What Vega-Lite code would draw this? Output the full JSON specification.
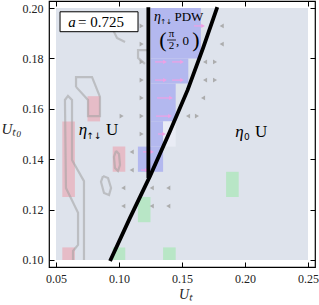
{
  "$schema": "https://vega.github.io/schema/vega-lite/v6.json",
  "width": 266,
  "height": 266,
  "autosize": {"type": "none"},
  "padding": {"left": 49, "top": 1, "right": 4, "bottom": 38},
  "background": "white",
  "config": {"view": {"stroke": "black", "strokeWidth": 1.2}, "font": "Liberation Serif"},
  "resolve": {"axis": {"x": "independent", "y": "independent"}},
  "datasets": {
    "bg": [{"x": 0.05, "x2": 0.25, "y": 0.10, "y2": 0.20}],
    "cells": [
      {"x": 0.055, "x2": 0.065, "y": 0.125, "y2": 0.155, "phase": "R"},
      {"x": 0.055, "x2": 0.065, "y": 0.100, "y2": 0.105, "phase": "R"},
      {"x": 0.075, "x2": 0.085, "y": 0.155, "y2": 0.165, "phase": "R"},
      {"x": 0.095, "x2": 0.105, "y": 0.135, "y2": 0.145, "phase": "R"},
      {"x": 0.115, "x2": 0.125, "y": 0.115, "y2": 0.125, "phase": "G"},
      {"x": 0.095, "x2": 0.105, "y": 0.100, "y2": 0.105, "phase": "G"},
      {"x": 0.135, "x2": 0.145, "y": 0.100, "y2": 0.105, "phase": "G"},
      {"x": 0.185, "x2": 0.195, "y": 0.125, "y2": 0.135, "phase": "G"},
      {"x": 0.125, "x2": 0.165, "y": 0.180, "y2": 0.200, "phase": "B"},
      {"x": 0.125, "x2": 0.155, "y": 0.170, "y2": 0.180, "phase": "B"},
      {"x": 0.125, "x2": 0.145, "y": 0.155, "y2": 0.170, "phase": "B"},
      {"x": 0.125, "x2": 0.135, "y": 0.145, "y2": 0.155, "phase": "B"},
      {"x": 0.115, "x2": 0.135, "y": 0.135, "y2": 0.145, "phase": "B"},
      {"x": 0.135, "x2": 0.145, "y": 0.145, "y2": 0.155, "phase": "W"}
    ],
    "contours": [
      {"id": "c1", "ord": 1, "x": 0.0635, "y": 0.1000},
      {"id": "c1", "ord": 2, "x": 0.0635, "y": 0.1036},
      {"id": "c1", "ord": 3, "x": 0.0675, "y": 0.1060},
      {"id": "c1", "ord": 4, "x": 0.0675, "y": 0.1187},
      {"id": "c1", "ord": 5, "x": 0.0579, "y": 0.1286},
      {"id": "c1", "ord": 6, "x": 0.0571, "y": 0.1635},
      {"id": "c1", "ord": 7, "x": 0.0595, "y": 0.1651},
      {"id": "c1", "ord": 8, "x": 0.0627, "y": 0.1635},
      {"id": "c1", "ord": 9, "x": 0.0627, "y": 0.1397},
      {"id": "c1", "ord": 10, "x": 0.0722, "y": 0.1313},
      {"id": "c1", "ord": 11, "x": 0.0722, "y": 0.1000},
      {"id": "c2", "ord": 1, "x": 0.0659, "y": 0.1687},
      {"id": "c2", "ord": 2, "x": 0.0659, "y": 0.1726},
      {"id": "c2", "ord": 3, "x": 0.0786, "y": 0.1726},
      {"id": "c2", "ord": 4, "x": 0.0849, "y": 0.1647},
      {"id": "c2", "ord": 5, "x": 0.0849, "y": 0.1571},
      {"id": "c2", "ord": 6, "x": 0.0754, "y": 0.1571},
      {"id": "c2", "ord": 7, "x": 0.0754, "y": 0.1635},
      {"id": "c2", "ord": 8, "x": 0.0659, "y": 0.1687},
      {"id": "c3", "ord": 1, "x": 0.0873, "y": 0.1333},
      {"id": "c3", "ord": 2, "x": 0.0913, "y": 0.1325},
      {"id": "c3", "ord": 3, "x": 0.0937, "y": 0.1286},
      {"id": "c3", "ord": 4, "x": 0.0921, "y": 0.1258},
      {"id": "c3", "ord": 5, "x": 0.0881, "y": 0.1266},
      {"id": "c3", "ord": 6, "x": 0.0857, "y": 0.1310},
      {"id": "c3", "ord": 7, "x": 0.0873, "y": 0.1333},
      {"id": "c4", "ord": 1, "x": 0.0976, "y": 0.1433},
      {"id": "c4", "ord": 2, "x": 0.1000, "y": 0.1421},
      {"id": "c4", "ord": 3, "x": 0.1008, "y": 0.1377},
      {"id": "c4", "ord": 4, "x": 0.0992, "y": 0.1353},
      {"id": "c4", "ord": 5, "x": 0.0968, "y": 0.1365},
      {"id": "c4", "ord": 6, "x": 0.0960, "y": 0.1409},
      {"id": "c4", "ord": 7, "x": 0.0976, "y": 0.1433},
      {"id": "c5", "ord": 1, "x": 0.0929, "y": 0.1937},
      {"id": "c5", "ord": 2, "x": 0.0984, "y": 0.1881},
      {"id": "c5", "ord": 3, "x": 0.1048, "y": 0.1865},
      {"id": "c6", "ord": 1, "x": 0.1222, "y": 0.1833},
      {"id": "c6", "ord": 2, "x": 0.1151, "y": 0.1833},
      {"id": "c6", "ord": 3, "x": 0.1151, "y": 0.1802},
      {"id": "c6", "ord": 4, "x": 0.1206, "y": 0.1778}
    ],
    "blines": [
      {"id": "v", "ord": 1, "x": 0.1233, "y": 0.1325},
      {"id": "v", "ord": 2, "x": 0.1233, "y": 0.2003},
      {"id": "d", "ord": 1, "x": 0.0929, "y": 0.0996},
      {"id": "d", "ord": 2, "x": 0.1087, "y": 0.1167},
      {"id": "d", "ord": 3, "x": 0.1246, "y": 0.1333},
      {"id": "d", "ord": 4, "x": 0.1402, "y": 0.1508},
      {"id": "d", "ord": 5, "x": 0.1545, "y": 0.1675},
      {"id": "d", "ord": 6, "x": 0.1667, "y": 0.1841},
      {"id": "d", "ord": 7, "x": 0.1780, "y": 0.2003}
    ],
    "garrows": [
      {"x": 0.1180, "y": 0.1929, "dir": "R"},
      {"x": 0.1180, "y": 0.1857, "dir": "R"},
      {"x": 0.1180, "y": 0.1786, "dir": "R"},
      {"x": 0.1180, "y": 0.1714, "dir": "R"},
      {"x": 0.1180, "y": 0.1643, "dir": "R"},
      {"x": 0.1180, "y": 0.1571, "dir": "R"},
      {"x": 0.1180, "y": 0.1500, "dir": "R"},
      {"x": 0.1021, "y": 0.1571, "dir": "R"},
      {"x": 0.1101, "y": 0.1429, "dir": "L"},
      {"x": 0.1101, "y": 0.1357, "dir": "L"},
      {"x": 0.1034, "y": 0.1286, "dir": "L"},
      {"x": 0.1034, "y": 0.1214, "dir": "L"},
      {"x": 0.1260, "y": 0.1286, "dir": "L"},
      {"x": 0.1260, "y": 0.1214, "dir": "L"},
      {"x": 0.1391, "y": 0.1286, "dir": "L"},
      {"x": 0.1391, "y": 0.1214, "dir": "L"},
      {"x": 0.1815, "y": 0.1929, "dir": "L"},
      {"x": 0.1815, "y": 0.1857, "dir": "L"},
      {"x": 0.1683, "y": 0.1786, "dir": "L"},
      {"x": 0.1683, "y": 0.1714, "dir": "L"},
      {"x": 0.1667, "y": 0.1643, "dir": "L"},
      {"x": 0.1548, "y": 0.1571, "dir": "L"},
      {"x": 0.1762, "y": 0.1786, "dir": "R"},
      {"x": 0.1762, "y": 0.1714, "dir": "R"},
      {"x": 0.1619, "y": 0.1571, "dir": "R"}
    ],
    "parrows": [
      {"x": 0.1286, "x2": 0.1365, "y": 0.1786},
      {"x": 0.1421, "x2": 0.1500, "y": 0.1786},
      {"x": 0.1286, "x2": 0.1365, "y": 0.1714},
      {"x": 0.1421, "x2": 0.1500, "y": 0.1714},
      {"x": 0.1302, "x2": 0.1413, "y": 0.1643},
      {"x": 0.1294, "x2": 0.1405, "y": 0.1571},
      {"x": 0.1310, "x2": 0.1357, "y": 0.1500},
      {"x": 0.1190, "x2": 0.1262, "y": 0.1429},
      {"x": 0.1175, "x2": 0.1222, "y": 0.1357},
      {"x": 0.1595, "x2": 0.1667, "y": 0.1929}
    ],
    "box": [{"x": 0.0532, "x2": 0.1151, "y": 0.1906, "y2": 0.1985}],
    "t_a": [{"t": "a", "x": 0.0627, "y": 0.1944}],
    "t_val": [{"t": "= 0.725", "x": 0.0675, "y": 0.1944}],
    "t_eta": [{"t": "η", "x": 0.0714, "y": 0.1496}, {"t": "η", "x": 0.1956, "y": 0.1488}],
    "t_U": [{"t": "U", "x": 0.0897, "y": 0.1496}, {"t": "U", "x": 0.2079, "y": 0.1488}],
    "t_sub": [{"t": "↑↓", "x": 0.0802, "y": 0.1480}, {"t": "0", "x": 0.2014, "y": 0.1476}],
    "t_eta_s": [{"t": "η", "x": 0.1306, "y": 0.1948}],
    "t_sub_s": [{"t": "↑↓", "x": 0.1373, "y": 0.1937}],
    "t_pdw": [{"t": "PDW", "x": 0.1440, "y": 0.1948}],
    "t_paren": [{"t": "(", "x": 0.1349, "y": 0.1873}, {"t": ")", "x": 0.1611, "y": 0.1873}],
    "t_frac": [{"t": "π", "x": 0.1417, "y": 0.1897}, {"t": "2", "x": 0.1417, "y": 0.1849}],
    "t_c0": [{"t": ", 0", "x": 0.1452, "y": 0.1869}],
    "fracbar": [{"x": 0.1381, "x2": 0.1452, "y": 0.1873}]
  },
  "layer": [
    {
      "data": {"name": "bg"},
      "mark": {"type": "rect", "color": "#dee3ec"},
      "encoding": {
        "x": {"field": "x", "type": "quantitative",
              "scale": {"domain": [0.04444, 0.25556], "nice": false, "zero": false},
              "axis": {"orient": "bottom", "values": [0.05, 0.1, 0.15, 0.2, 0.25], "format": ".2f",
                       "tickSize": -5, "tickColor": "black", "tickWidth": 1, "domain": false, "grid": false,
                       "labelFont": "Liberation Serif", "labelFontSize": 12, "labelColor": "#222", "labelPadding": 11,
                       "title": "Uₜ", "titleFont": "Liberation Serif", "titleFontStyle": "italic", "titleFontWeight": "normal",
                       "titleFontSize": 14, "titleColor": "#222", "titleX": 136, "titleY": 31, "titleBaseline": "alphabetic", "titleAlign": "center"}},
        "x2": {"field": "x2"},
        "y": {"field": "y", "type": "quantitative",
              "scale": {"domain": [0.09722, 0.20278], "nice": false, "zero": false},
              "axis": {"orient": "left", "values": [0.10, 0.12, 0.14, 0.16, 0.18, 0.20], "format": ".2f",
                       "tickSize": -5, "tickColor": "black", "tickWidth": 1, "domain": false, "grid": false,
                       "labelFont": "Liberation Serif", "labelFontSize": 12, "labelColor": "#222", "labelPadding": 11,
                       "title": "Uₜ₀", "titleFont": "Liberation Serif", "titleFontStyle": "italic", "titleFontWeight": "normal",
                       "titleFontSize": 15, "titleColor": "#222", "titleAngle": 0, "titleX": -38, "titleY": 127,
                       "titleAlign": "center", "titleBaseline": "middle"}},
        "y2": {"field": "y2"}
      }
    },
    {
      "data": {"name": "cells"},
      "mark": {"type": "rect"},
      "encoding": {
        "x": {"field": "x", "type": "quantitative",
              "axis": {"orient": "top", "values": [0.05, 0.1, 0.15, 0.2, 0.25], "labels": false, "tickSize": -5,
                       "tickColor": "black", "domain": false, "grid": false, "title": null}},
        "x2": {"field": "x2"},
        "y": {"field": "y", "type": "quantitative",
              "axis": {"orient": "right", "values": [0.10, 0.12, 0.14, 0.16, 0.18, 0.20], "labels": false, "tickSize": -5,
                       "tickColor": "black", "domain": false, "grid": false, "title": null}},
        "y2": {"field": "y2"},
        "color": {"field": "phase", "type": "nominal", "legend": null,
                  "scale": {"domain": ["R", "G", "B", "W"], "range": ["#e6bcc7", "#b8e6c6", "#b3b8ef", "#e9ecf5"]}}
      }
    },
    {
      "data": {"name": "contours"},
      "mark": {"type": "line", "color": "#a0a0a0", "strokeWidth": 2.2, "opacity": 0.55, "interpolate": "linear"},
      "encoding": {
        "x": {"field": "x", "type": "quantitative", "axis": null},
        "y": {"field": "y", "type": "quantitative", "axis": null},
        "detail": {"field": "id"},
        "order": {"field": "ord", "type": "quantitative"}
      }
    },
    {
      "data": {"name": "garrows"},
      "mark": {"type": "point", "filled": true, "color": "#a6a6a6", "size": 22, "opacity": 0.9, "strokeWidth": 0},
      "encoding": {
        "x": {"field": "x", "type": "quantitative", "axis": null},
        "y": {"field": "y", "type": "quantitative", "axis": null},
        "shape": {"field": "dir", "type": "nominal", "legend": null,
                  "scale": {"domain": ["L", "R"], "range": ["triangle-left", "triangle-right"]}}
      }
    },
    {
      "data": {"name": "parrows"},
      "mark": {"type": "rule", "color": "#f0a0e4", "strokeWidth": 1.2},
      "encoding": {
        "x": {"field": "x", "type": "quantitative", "axis": null},
        "x2": {"field": "x2"},
        "y": {"field": "y", "type": "quantitative", "axis": null}
      }
    },
    {
      "data": {"name": "parrows"},
      "mark": {"type": "point", "shape": "triangle-right", "filled": true, "color": "#f0a0e4", "size": 18, "opacity": 1, "strokeWidth": 0},
      "encoding": {
        "x": {"field": "x2", "type": "quantitative", "axis": null},
        "y": {"field": "y", "type": "quantitative", "axis": null}
      }
    },
    {
      "data": {"name": "blines"},
      "mark": {"type": "line", "color": "black", "strokeWidth": 3.8, "interpolate": "linear"},
      "encoding": {
        "x": {"field": "x", "type": "quantitative", "axis": null},
        "y": {"field": "y", "type": "quantitative", "axis": null},
        "detail": {"field": "id"},
        "order": {"field": "ord", "type": "quantitative"}
      }
    },
    {
      "data": {"name": "box"},
      "mark": {"type": "rect", "fill": "white", "stroke": "black", "strokeWidth": 1},
      "encoding": {
        "x": {"field": "x", "type": "quantitative", "axis": null},
        "x2": {"field": "x2"},
        "y": {"field": "y", "type": "quantitative", "axis": null},
        "y2": {"field": "y2"}
      }
    },
    {
      "data": {"name": "t_a"},
      "mark": {"type": "text", "font": "Liberation Serif", "fontStyle": "italic", "fontSize": 15, "align": "center", "baseline": "middle", "color": "black"},
      "encoding": {
        "x": {"field": "x", "type": "quantitative", "axis": null},
        "y": {"field": "y", "type": "quantitative", "axis": null},
        "text": {"field": "t"}
      }
    },
    {
      "data": {"name": "t_val"},
      "mark": {"type": "text", "font": "Liberation Serif", "fontSize": 15, "align": "left", "baseline": "middle", "color": "black"},
      "encoding": {
        "x": {"field": "x", "type": "quantitative", "axis": null},
        "y": {"field": "y", "type": "quantitative", "axis": null},
        "text": {"field": "t"}
      }
    },
    {
      "data": {"name": "t_eta"},
      "mark": {"type": "text", "font": "Liberation Serif", "fontStyle": "italic", "fontSize": 17, "align": "center", "baseline": "alphabetic", "color": "black"},
      "encoding": {
        "x": {"field": "x", "type": "quantitative", "axis": null},
        "y": {"field": "y", "type": "quantitative", "axis": null},
        "text": {"field": "t"}
      }
    },
    {
      "data": {"name": "t_U"},
      "mark": {"type": "text", "font": "Liberation Serif", "fontSize": 17, "align": "left", "baseline": "alphabetic", "color": "black"},
      "encoding": {
        "x": {"field": "x", "type": "quantitative", "axis": null},
        "y": {"field": "y", "type": "quantitative", "axis": null},
        "text": {"field": "t"}
      }
    },
    {
      "data": {"name": "t_sub"},
      "mark": {"type": "text", "font": "DejaVu Sans", "fontSize": 9, "align": "center", "baseline": "alphabetic", "color": "black"},
      "encoding": {
        "x": {"field": "x", "type": "quantitative", "axis": null},
        "y": {"field": "y", "type": "quantitative", "axis": null},
        "text": {"field": "t"}
      }
    },
    {
      "data": {"name": "t_eta_s"},
      "mark": {"type": "text", "font": "Liberation Serif", "fontStyle": "italic", "fontSize": 14, "align": "center", "baseline": "alphabetic", "color": "black"},
      "encoding": {
        "x": {"field": "x", "type": "quantitative", "axis": null},
        "y": {"field": "y", "type": "quantitative", "axis": null},
        "text": {"field": "t"}
      }
    },
    {
      "data": {"name": "t_sub_s"},
      "mark": {"type": "text", "font": "DejaVu Sans", "fontSize": 7, "align": "center", "baseline": "alphabetic", "color": "black"},
      "encoding": {
        "x": {"field": "x", "type": "quantitative", "axis": null},
        "y": {"field": "y", "type": "quantitative", "axis": null},
        "text": {"field": "t"}
      }
    },
    {
      "data": {"name": "t_pdw"},
      "mark": {"type": "text", "font": "Liberation Serif", "fontSize": 13, "align": "left", "baseline": "alphabetic", "color": "black"},
      "encoding": {
        "x": {"field": "x", "type": "quantitative", "axis": null},
        "y": {"field": "y", "type": "quantitative", "axis": null},
        "text": {"field": "t"}
      }
    },
    {
      "data": {"name": "t_paren"},
      "mark": {"type": "text", "font": "Liberation Serif", "fontSize": 22, "align": "center", "baseline": "middle", "color": "black"},
      "encoding": {
        "x": {"field": "x", "type": "quantitative", "axis": null},
        "y": {"field": "y", "type": "quantitative", "axis": null},
        "text": {"field": "t"}
      }
    },
    {
      "data": {"name": "t_frac"},
      "mark": {"type": "text", "font": "Liberation Serif", "fontSize": 11, "align": "center", "baseline": "middle", "color": "black"},
      "encoding": {
        "x": {"field": "x", "type": "quantitative", "axis": null},
        "y": {"field": "y", "type": "quantitative", "axis": null},
        "text": {"field": "t"}
      }
    },
    {
      "data": {"name": "t_c0"},
      "mark": {"type": "text", "font": "Liberation Serif", "fontSize": 13, "align": "left", "baseline": "middle", "color": "black"},
      "encoding": {
        "x": {"field": "x", "type": "quantitative", "axis": null},
        "y": {"field": "y", "type": "quantitative", "axis": null},
        "text": {"field": "t"}
      }
    },
    {
      "data": {"name": "fracbar"},
      "mark": {"type": "rule", "color": "black", "strokeWidth": 0.8},
      "encoding": {
        "x": {"field": "x", "type": "quantitative", "axis": null},
        "x2": {"field": "x2"},
        "y": {"field": "y", "type": "quantitative", "axis": null}
      }
    }
  ]
}
